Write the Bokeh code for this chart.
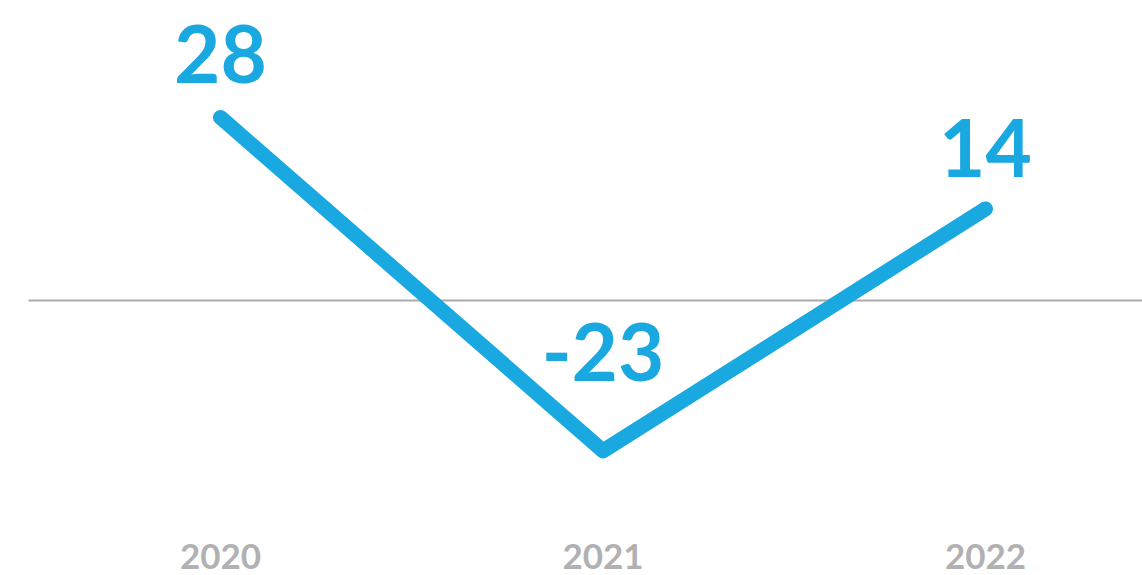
from bokeh.plotting import figure
from bokeh.models import ColumnDataSource
from bokeh.core.properties import value
from bokeh.embed import file_html
from bokeh.resources import INLINE

# ---- data ----
years = [2020, 2021, 2022]
values = [28, -23, 14]
value_labels = ["28", "-23", "14"]
year_labels = ["2020", "2021", "2022"]

# ---- layout ----
W, H = 1142, 575
px_per_year = 382.5
px_per_unit = 6.54
x0 = years[0] - 220 / px_per_year
x1 = x0 + W / px_per_year
y1 = 300 / px_per_unit
y0 = y1 - H / px_per_unit

BLUE = "#19a8e0"
GREY = "#b1b1b3"

p = figure(width=W, height=H, x_range=(x0, x1), y_range=(y0, y1),
           output_backend="svg", toolbar_location=None, min_border=0)
p.axis.visible = False
p.grid.visible = False
p.outline_line_color = None
p.background_fill_color = "white"
p.border_fill_color = "white"

# zero baseline
p.segment(x0=[x0 + 28 / px_per_year], x1=[x1 + 1], y0=[0], y1=[0],
          line_color="#ababab", line_width=2)

label_offsets = [-63, -99, -61]
src = ColumnDataSource(dict(x=years, y=values, lab=value_labels,
                            yl=year_labels, off=label_offsets))

p.line("x", "y", source=src, line_color=BLUE, line_width=15,
       line_cap="round", line_join="round")

p.text("x", "y", text="lab", source=src, y_offset="off",
       text_align="center", text_baseline="alphabetic",
       text_font=value("Lato"), text_font_style="bold",
       text_font_size="80px", text_color=BLUE)

ybase = y1 - 556 / px_per_unit
p.text("x", ybase, text="yl", source=src,
       text_align="center", text_baseline="alphabetic",
       text_font=value("Lato"), text_font_style="bold",
       text_font_size="35px", text_color=GREY)

open("out.html", "w").write(file_html(p, INLINE))
